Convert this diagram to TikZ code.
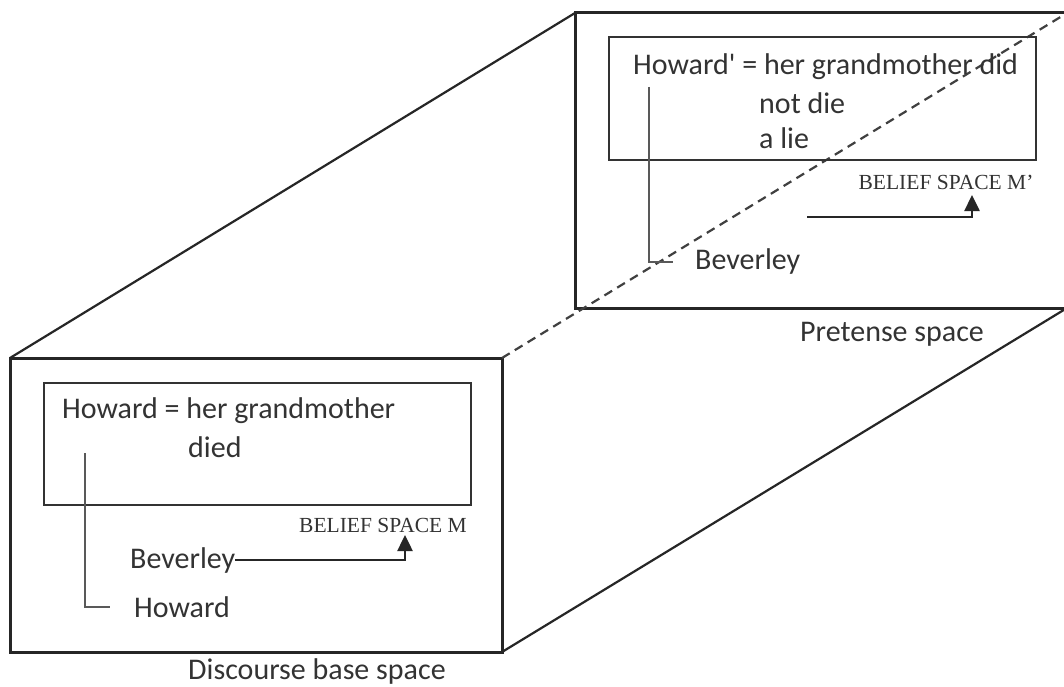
\documentclass[tikz,border=0pt]{standalone}
\usepackage{fontspec}
\setmainfont{Carlito}
\newfontfamily\beliefFont{Liberation Serif}
\usetikzlibrary{arrows.meta,calc}
\tikzset{
>={Triangle[length=16pt,width=15pt]},
  face/.style    = { draw=black!85, line width=3pt },
  rim/.style     = { draw=black!85, line width=2.2pt },
  hidden/.style  = { draw=black!75, line width=2.2pt, dash pattern=on 9pt off 6pt },
  belief/.style  = { draw=black!80, line width=2.5pt },
  connect/.style = { draw=black!85, line width=2.5pt },
  bracket/.style = { draw=black!65, line width=1.8pt },
  label/.style   = { anchor=west, inner sep=0pt, text=black!80,
                     font=\fontsize{30}{36}\selectfont },
  tag/.style     = { inner sep=0pt, text=black!80,
                     font=\beliefFont\fontsize{21.5}{25}\selectfont }
}

\begin{document}
\begin{tikzpicture}[x=1pt,y=-1pt]
  \clip (0,0) rectangle (1064,687);
  \fill[white] (0,0) rectangle (1064,687);

  % Corners of the two spaces
  \coordinate (fNW) at (10,358);
  \coordinate (fNE) at (502,358);
  \coordinate (fSE) at (502,652);
  \coordinate (bNW) at (575,13);
  \coordinate (bNE) at (1067,13);
  \coordinate (bSE) at (1067,308);

  % Draw both spaces and the box edges
  \draw[face] (fNW) rectangle (fSE);
  \draw[face] (bNW) rectangle (bSE);
  \draw[rim] (fNW) -- (bNW) (fSE) -- (bSE);
  \draw[hidden] (fNE) -- (bNE);

  % Belief spaces
  \draw[belief] (44,383) rectangle (471,505);
  \draw[belief] (609,37) rectangle (1036,160);

  % Discourse base space
  \node[label] (howardM) at (62,411) {Howard = her grandmother};
  \node[label] (diedM) at (188,447) {died};
  \node[tag] (beliefM) at (383,525) {BELIEF SPACE M};
  \node[label] (beverleyM) at (130,560) {Beverley};
  \node[label] (howardB) at (134,607) {Howard};
  \node[label] (discourse) at (188,671) {Discourse base space};

  % Pretense space
  \node[label] (howardMp) at (633,67) {Howard\textquotesingle{} = her grandmother did};
  \node[label] (notdie) at (759,103) {not die};
  \node[label] (alie) at (759,138) {a lie};
  \node[tag] (beliefMp) at (946,182) {BELIEF SPACE M’};
  \node[label] (beverleyMp) at (695,262) {Beverley};
  \node[label] (pretense) at (800,334) {Pretense space};

  % Draw connectors
  \coordinate (tipM) at (405,535);
  \draw[connect,->] (beverleyM.east) -| (tipM);
  \coordinate (startMp) at (807,217);
  \coordinate (tipMp) at (972,195);
  \draw[connect,->] (startMp) -| (tipMp);

  \coordinate (topM) at (85,453);
  \draw[bracket] (topM) |- ([xshift=-24pt]howardB.west);
  \coordinate (topMp) at (649,87);
  \draw[bracket] (topMp) |- ([xshift=-22pt]beverleyMp.west);
\end{tikzpicture}
\end{document}
